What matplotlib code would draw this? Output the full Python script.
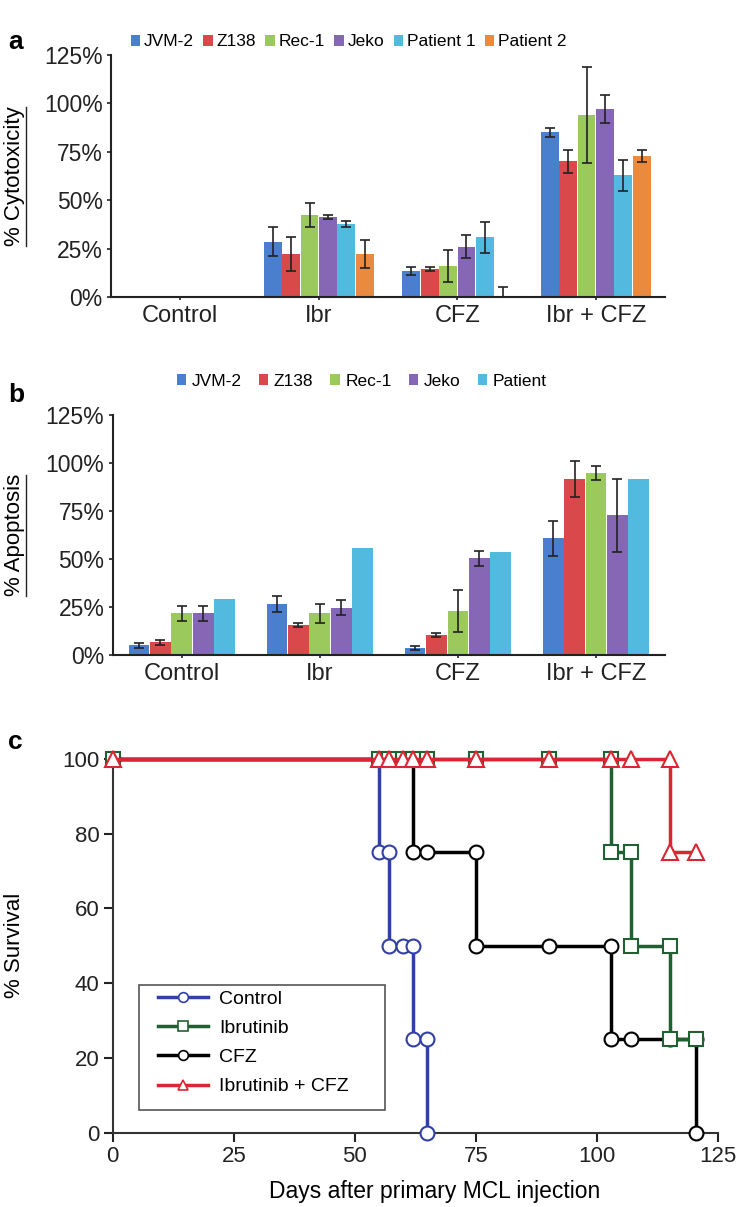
import matplotlib
matplotlib.use('Agg')
import matplotlib.pyplot as plt
import matplotlib.patches as mpatches
from matplotlib.lines import Line2D
import numpy as np

matplotlib.rcParams['font.family'] = ['Liberation Sans', 'DejaVu Sans']
matplotlib.rcParams['font.size'] = 12.5

# ---- data ----
treatments = ['Control', 'Ibr', 'CFZ', 'Ibr + CFZ']

# panel a: cytotoxicity (%)
cyto_lines = ['JVM-2', 'Z138', 'Rec-1', 'Jeko', 'Patient 1', 'Patient 2']
cyto_vals = {
    'JVM-2':     [0, 28.5, 13.5, 85.0],
    'Z138':      [0, 22.2, 14.5, 70.0],
    'Rec-1':     [0, 42.4, 16.0, 94.0],
    'Jeko':      [0, 41.2, 26.0, 97.1],
    'Patient 1': [0, 37.5, 30.8, 63.0],
    'Patient 2': [0, 22.2, 0.0, 72.8],
}
cyto_err = {
    'JVM-2':     [0, 7.5, 2.0, 2.5],
    'Z138':      [0, 9.0, 1.0, 6.0],
    'Rec-1':     [0, 6.2, 8.5, 25.0],
    'Jeko':      [0, 1.0, 6.0, 7.0],
    'Patient 1': [0, 1.5, 8.0, 8.0],
    'Patient 2': [0, 7.0, 5.0, 3.0],
}

# panel b: apoptosis (%)
apo_lines = ['JVM-2', 'Z138', 'Rec-1', 'Jeko', 'Patient']
apo_vals = {
    'JVM-2':   [5.2, 26.6, 3.5, 60.8],
    'Z138':    [6.6, 15.6, 10.4, 91.7],
    'Rec-1':   [21.7, 21.7, 22.9, 94.9],
    'Jeko':    [21.7, 24.7, 50.3, 72.9],
    'Patient': [29.0, 55.9, 53.8, 91.7],
}
apo_err = {
    'JVM-2':   [1.3, 4.0, 1.0, 9.0],
    'Z138':    [1.3, 1.2, 1.2, 9.5],
    'Rec-1':   [4.0, 5.0, 11.0, 3.7],
    'Jeko':    [4.0, 4.0, 4.0, 19.0],
    'Patient': [0, 0, 0, 0],
}

line_colors = {
    'JVM-2': '#4a7fcf', 'Z138': '#d9484b', 'Rec-1': '#9cc95b',
    'Jeko': '#8667b5', 'Patient 1': '#52b9df', 'Patient': '#52b9df',
    'Patient 2': '#ea8a3f',
}

# panel c: survival curve vertices (day, % survival)
ctrl_days = [0, 55, 55, 57, 57, 60, 62, 62, 65, 65]
ctrl_surv = [100, 100, 75, 75, 50, 50, 50, 25, 25, 0]
cfz_days = [0, 55, 57, 60, 62, 62, 65, 75, 75, 90, 103, 103, 107, 115, 120.5, 120.5]
cfz_surv = [100, 100, 100, 100, 100, 75, 75, 75, 50, 50, 50, 25, 25, 25, 25, 0]
ibr_days = [0, 55, 57, 60, 62, 65, 75, 90, 103, 103, 107, 107, 115, 115, 120.5]
ibr_surv = [100, 100, 100, 100, 100, 100, 100, 100, 100, 75, 75, 50, 50, 25, 25]
combo_days = [0, 55, 57, 60, 62, 65, 75, 90, 103, 107, 115, 115, 120.5]
combo_surv = [100, 100, 100, 100, 100, 100, 100, 100, 100, 100, 100, 75, 75]

W, H = 737, 1207
fig = plt.figure(figsize=(W / 100, H / 100), dpi=100)


def px_axes(left, right, top, bottom):
    return fig.add_axes([left / W, 1 - bottom / H, (right - left) / W, (bottom - top) / H])


def bar_panel(ax, lines, vals, errs, width):
    x = np.arange(len(treatments))
    n = len(lines)
    for i, name in enumerate(lines):
        xs = x + (i - (n - 1) / 2) * width
        ax.bar(xs, vals[name], width=width * 0.97, color=line_colors[name],
               edgecolor='none', label=name, zorder=2)
        for xi, v, ei in zip(xs, vals[name], errs[name]):
            if ei:
                # lower part cannot go below the axis
                ax.errorbar(xi, v, yerr=[[min(v, ei)], [ei]], fmt='none',
                            ecolor='#222222', elinewidth=1.2, capsize=3.5,
                            capthick=1.2, zorder=3, clip_on=False)
    ax.set_xlim(-0.5, 3.5)
    ax.set_ylim(0, 125)
    ax.set_yticks([0, 25, 50, 75, 100, 125])
    ax.set_yticklabels([f'{v}%' for v in [0, 25, 50, 75, 100, 125]])
    ax.set_xticks(x)
    ax.set_xticklabels(treatments)
    for s in ['top', 'right']:
        ax.spines[s].set_visible(False)
    for s in ['left', 'bottom']:
        ax.spines[s].set_linewidth(1.5)
        ax.spines[s].set_color('#222222')
    ax.tick_params(axis='y', length=3, width=1.2, pad=3, labelsize=16.5, colors='#222222')
    ax.tick_params(axis='x', length=2, width=1.2, pad=4, labelsize=17, colors='#222222')


# ---- panel a ----
ax_a = px_axes(111, 665, 55, 297)
bar_panel(ax_a, cyto_lines, cyto_vals, cyto_err, 0.1333)
ax_a.set_ylabel('% Cytotoxicity', fontsize=16)
ax_a.yaxis.set_label_coords((25 - 111) / 554, 0.5)
ax_a.legend(loc='center left', bbox_to_anchor=(122 / W, 1 - 42 / H),
            bbox_transform=fig.transFigure, ncol=6, frameon=False, fontsize=12.5,
            handlelength=0.55, handleheight=0.55, handletextpad=0.2,
            columnspacing=0.55, borderpad=0)

# ---- panel b ----
ax_b = px_axes(112.7, 665, 415, 655)
bar_panel(ax_b, apo_lines, apo_vals, apo_err, 0.155)
ax_b.set_ylabel('% Apoptosis', fontsize=16)
ax_b.yaxis.set_label_coords((25 - 112.7) / 552.3, 0.5)
ax_b.legend(loc='center left', bbox_to_anchor=(168 / W, 1 - 381 / H),
            bbox_transform=fig.transFigure, ncol=5, frameon=False, fontsize=12.5,
            handlelength=0.55, handleheight=0.55, handletextpad=0.3,
            columnspacing=1.0, borderpad=0)

# ---- panel c ----
ax_c = px_axes(112.7, 718, 759, 1132.7)
series = [
    ('Control', ctrl_days, ctrl_surv, '#3240a4', 'o', 10),
    ('CFZ', cfz_days, cfz_surv, '#000000', 'o', 10),
    ('Ibrutinib', ibr_days, ibr_surv, '#1f6130', 's', 10),
    ('Ibrutinib + CFZ', combo_days, combo_surv, '#d92631', '^', 11),
]
handles = {}
for name, d, s, c, m, ms in series:
    h, = ax_c.plot(d, s, color=c, lw=2.5, marker=m, ms=ms, mfc='white',
                   mec=c, mew=1.5, clip_on=False, label=name, zorder=3)
    handles[name] = h
order = ['Control', 'Ibrutinib', 'CFZ', 'Ibrutinib + CFZ']
leg_handles = [Line2D([], [], color=handles[n].get_color(), lw=2.5,
                      marker=handles[n].get_marker(), ms=7, mfc='white',
                      mec=handles[n].get_color(), mew=1.2) for n in order]
ax_c.legend(leg_handles, order, loc='upper left',
            bbox_to_anchor=(158 / W, 1 - 990 / H), bbox_transform=fig.transFigure,
            frameon=False, fontsize=14, handlelength=2.55, handletextpad=0.6,
            borderpad=0, borderaxespad=0, labelspacing=0.6)
fig.add_artist(mpatches.Rectangle((139 / W, 1 - 1110 / H), 246 / W, 125 / H,
                                  transform=fig.transFigure, fill=False,
                                  edgecolor='#555555', lw=1.2, zorder=5))
ax_c.set_xlim(0, 125)
ax_c.set_ylim(0, 100)
ax_c.set_xticks([0, 25, 50, 75, 100, 125])
ax_c.set_yticks([0, 20, 40, 60, 80, 100])
for s in ['top', 'right']:
    ax_c.spines[s].set_visible(False)
for s in ['left', 'bottom']:
    ax_c.spines[s].set_linewidth(1.5)
    ax_c.spines[s].set_color('#333333')
ax_c.tick_params(length=6.5, width=1.5, pad=3, labelsize=16, colors='#222222')
ax_c.set_xlabel('Days after primary MCL injection', fontsize=16.5)
ax_c.xaxis.set_label_coords((435 - 112.7) / 605.3, (1132.7 - 1180) / 373.7)
ax_c.set_ylabel('% Survival', fontsize=16)
ax_c.yaxis.set_label_coords((25 - 112.7) / 605.3, 0.5)

# panel letters
for lab, yy in [('a', 42), ('b', 395), ('c', 742)]:
    fig.text(8 / W, 1 - yy / H, lab, fontsize=19, fontweight='bold', va='center')

# underline rotated y labels of bar panels
fig.canvas.draw()
for ax in [ax_a, ax_b]:
    bb = ax.yaxis.label.get_window_extent()
    xline = (bb.x1 + 1) / W
    fig.add_artist(Line2D([xline, xline], [bb.y0 / H, (bb.y1 - 1) / H],
                          transform=fig.transFigure, color='#222222', lw=1.0))

fig.savefig('out.png', dpi=100)
